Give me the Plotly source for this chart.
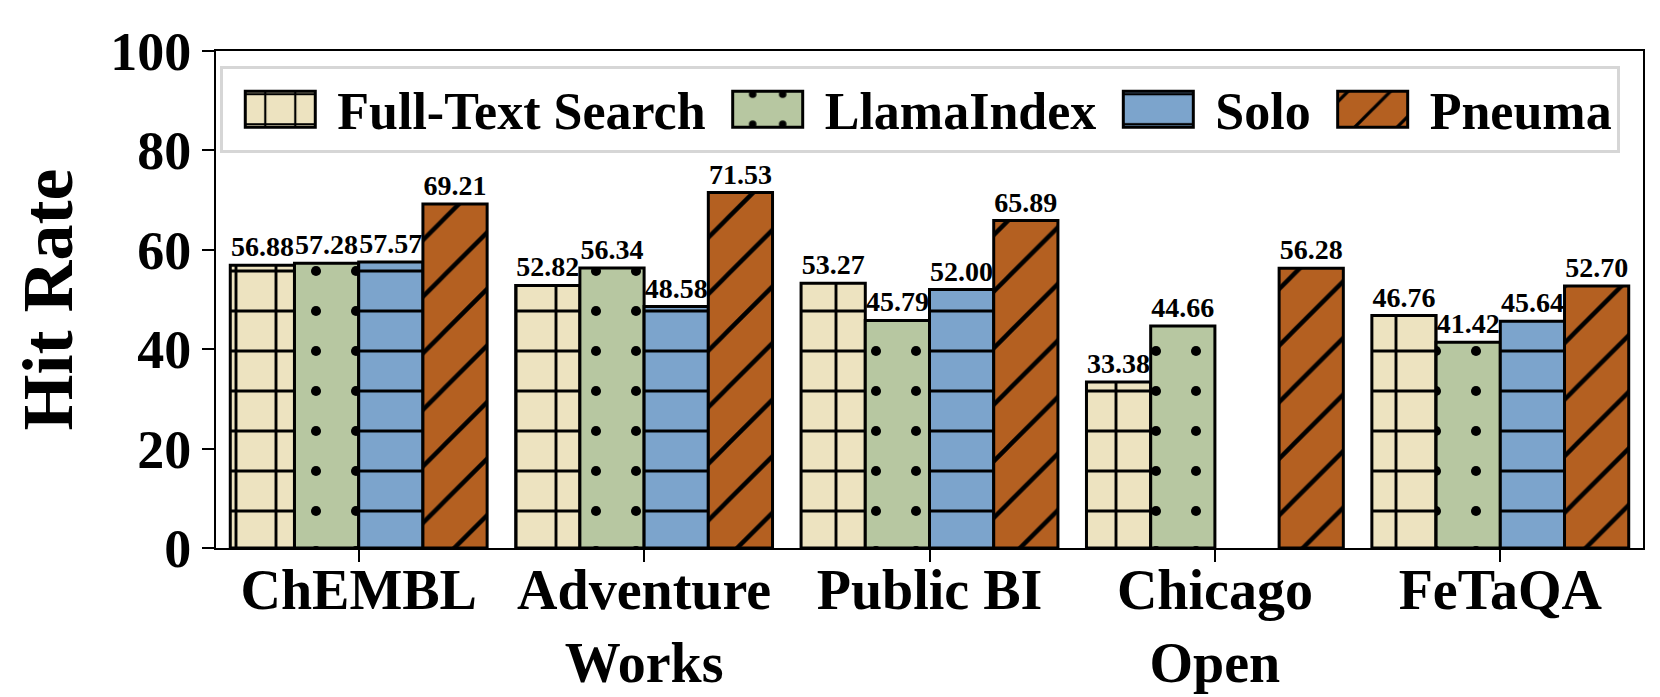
import plotly.graph_objects as go

# data
datasets = ["ChEMBL", "Adventure<br>Works", "Public BI", "Chicago<br>Open", "FeTaQA"]
methods = ["Full-Text Search", "LlamaIndex", "Solo", "Pneuma"]

full_text = [56.88, 52.82, 53.27, 33.38, 46.76]
llama_index = [57.28, 56.34, 45.79, 44.66, 41.42]
solo = [57.57, 48.58, 52.00, None, 45.64]
pneuma = [69.21, 71.53, 65.89, 56.28, 52.70]

series = [full_text, llama_index, solo, pneuma]
colors = ["#EDE3C0", "#B7C7A1", "#7CA4CC", "#B46021"]
patterns = [("+", 0.14), (".", 0.05), ("-", 0.075), ("/", 0.11)]

font_family = "Liberation Serif"

fig = go.Figure()
for name, vals, col, (shape, sol) in zip(methods, series, colors, patterns):
    fig.add_trace(go.Bar(
        name=name,
        x=datasets,
        y=vals,
        marker=dict(
            color=col,
            line=dict(color="black", width=3),
            pattern=dict(shape=shape, size=40, solidity=sol, fgcolor="black",
                         fgopacity=1, fillmode="overlay"),
        ),
        texttemplate="%{y:.2f}",
        textposition="outside",
        constraintext="none",
        cliponaxis=False,
        textfont=dict(family=font_family, size=28, color="black", weight="bold"),
    ))

fig.update_layout(
    width=1660,
    height=697,
    barmode="group",
    bargap=0.1,
    bargroupgap=0,
    plot_bgcolor="white",
    paper_bgcolor="white",
    margin=dict(l=208, r=25, t=43, b=157),
    font=dict(family=font_family, color="black", weight="bold"),
    legend=dict(
        orientation="h",
        x=0.003, y=0.97,
        xanchor="left", yanchor="top",
        font=dict(size=52, family=font_family, weight="bold"),
        bordercolor="#d6d6d6",
        borderwidth=3,
        bgcolor="white",
        itemwidth=104,
    ),
)

fig.update_xaxes(
    showline=True, linecolor="black", linewidth=2, mirror=True,
    ticks="outside", ticklen=12, tickwidth=2, tickcolor="black",
    tickfont=dict(size=56, family=font_family, weight="bold"),
    ticklabelstandoff=-20,
    automargin=False,
)
fig.update_yaxes(
    title=dict(text="Hit Rate", font=dict(size=72, family=font_family, weight="bold"), standoff=22),
    range=[0, 100], dtick=20,
    showline=True, linecolor="black", linewidth=2, mirror=True,
    ticks="outside", ticklen=12, tickwidth=2, tickcolor="black",
    showgrid=False, zeroline=False,
    tickfont=dict(size=54, family=font_family, weight="bold"),
    automargin=False,
)

# bigger legend swatches with coarser hatching, like the matplotlib ones
post = """
var gd = document.getElementById('{plot_id}');
function bigSwatches() {
  gd.querySelectorAll('.legend .legendpoints path').forEach(function (p) {
    p.setAttribute('d', 'M35,18H-35V-18H35Z');
    var f = p.style.fill || p.getAttribute('fill') || '';
    var m = f.match(/#([^'")]+)/);
    if (m) {
      var pat = document.getElementById(m[1]);
      if (pat) pat.setAttribute('patternTransform', 'scale(3)');
    }
  });
}
bigSwatches();
gd.on('plotly_afterplot', bigSwatches);
"""

fig.write_html("out.html", post_script=post)
